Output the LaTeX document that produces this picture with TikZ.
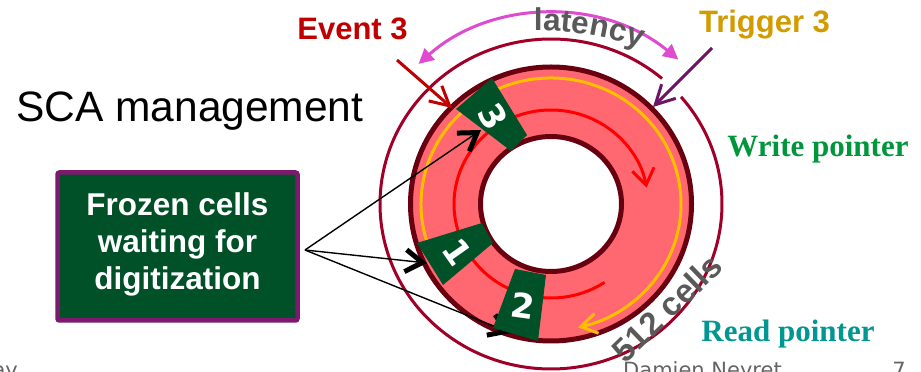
\documentclass[tikz,border=0pt]{standalone}
\usepackage{fontspec}
\setmainfont{Liberation Sans}
\newfontfamily\sansfont{Liberation Sans}
\newfontfamily\seriffont{Liberation Serif}
\newfontfamily\dejavu{DejaVu Sans}
\usetikzlibrary{arrows.meta,decorations.text}

\definecolor{ringfill}{RGB}{255,104,112}
\definecolor{ringedge}{RGB}{105,0,15}
\definecolor{outerline}{RGB}{160,0,40}
\definecolor{cellgreen}{RGB}{0,80,40}
\definecolor{boxframe}{RGB}{125,25,110}
\definecolor{latmag}{RGB}{222,75,208}
\definecolor{eventred}{RGB}{192,0,0}
\definecolor{trigpurple}{RGB}{110,20,100}
\definecolor{triggold}{RGB}{210,155,0}
\definecolor{writegreen}{RGB}{0,150,60}
\definecolor{readteal}{RGB}{0,150,145}
\definecolor{labelgrey}{RGB}{89,89,89}
\definecolor{footgrey}{RGB}{100,100,100}
\definecolor{ptryellow}{RGB}{255,190,0}

\begin{document}
\begin{tikzpicture}[x=1pt,y=1pt,
  cell/.style={fill=cellgreen},
  celldigit/.style={text=white,inner sep=0pt,
    font=\dejavu\bfseries\fontsize{34}{38}\selectfont},
  pointer/.style={draw=black,line width=1.4pt,
    -{Straight Barb[length=17pt,width=22pt,line width=5pt]}},
  eventarrow/.style={line width=3pt,
    -{Straight Barb[length=19pt,width=20pt,line width=3pt]}},
  track/.style={line width=3pt},
  bigtitle/.style={font=\sansfont\fontsize{42.5}{48}\selectfont},
  headlabel/.style={font=\sansfont\bfseries\fontsize{31}{36}\selectfont},
  ptrlabel/.style={font=\seriffont\bfseries\fontsize{31}{36}\selectfont},
  footer/.style={font=\dejavu\fontsize{21}{24}\selectfont,text=footgrey}
]
\useasboundingbox (0,0) rectangle (921,372);
\coordinate (c) at (551,168);

% outer memory boundary, open where the trigger arrow passes
\draw[outerline,line width=3pt]
  ([shift={(49.5:171 and 165)}]c)
  arc[start angle=49.5,end angle=400.5,x radius=171,y radius=165];

% latency span
\draw[latmag,line width=3pt,
  {Triangle[length=15pt,width=15pt]}-{Triangle[length=15pt,width=15pt]}]
  ([shift={(132.5:196 and 190)}]c)
  arc[start angle=132.5,end angle=49.5,x radius=196,y radius=190];
\coordinate (latc) at (538,21);
\path[decorate,decoration={text along path,text align=center,
    text color=labelgrey,
    text={|\sansfont\bfseries\fontsize{31.5}{34}\selectfont|latency}}]
  ([shift={(101:320)}]latc) arc[start angle=101,end angle=61,radius=320];

% circular buffer
\fill[ringfill,even odd rule]
  (c) ellipse[x radius=140.5,y radius=137]
  (c) ellipse[x radius=70.5,y radius=67.5];
\draw[ringedge,line width=5pt] (c) ellipse[x radius=140.5,y radius=137];
\draw[ringedge,line width=5pt] (c) ellipse[x radius=70.5,y radius=67.5];

% read pointer track
\draw[ptryellow,track,-{Straight Barb[length=16pt,width=20pt,line width=3pt]}]
  ([shift={(205:130 and 126)}]c)
  arc[start angle=205,end angle=-78,x radius=130,y radius=126];

% write pointer track
\draw[red,track,-{Straight Barb[length=16pt,width=22pt,line width=3pt]}]
  ([shift={(-56.5:97 and 94)}]c)
  arc[start angle=-56.5,end angle=-350,x radius=97,y radius=94];

% explanation box
\node[draw=boxframe,line width=4.5pt,fill=cellgreen,rounded corners=2pt,
  minimum width=240pt,minimum height=148pt,inner sep=0pt] (box) at (177.5,125.5) {};
\node[align=center,text=white,inner sep=0pt,
  font=\sansfont\bfseries\fontsize{31.5}{37}\selectfont] (boxtext) at (177.5,127.5)
  {Frozen cells\\waiting for\\digitization};

% pointers from the box to the frozen cells
\coordinate (src) at (305,122);
\coordinate (tip3) at (481,242);
\coordinate (tip1) at (427,109);
\coordinate (tip2) at (511,39);
\draw[pointer] (src) -- (tip3);
\draw[pointer] (src) -- (tip1);
\draw[pointer] (src) -- (tip2);

% frozen cells
\fill[cell] (456,263) -- (492,294) -- (527,237) -- (511,221) -- cycle;
\fill[cell] (417,129) -- (482,149) -- (493,129) -- (443,87) -- cycle;
\fill[cell] (515,103) -- (546,97) -- (538,31) -- (493,44) -- cycle;
\node[celldigit,rotate=-60] (d3) at (493,255) {3};
\node[celldigit,rotate=-55] (d1) at (457,120) {1};
\node[celldigit,rotate=-8] (d2) at (523,66) {2};

% event and trigger markers
\coordinate (ev0) at (397,312);
\coordinate (ev1) at (452,264);
\draw[eventarrow,eventred] (ev0) -- (ev1);
\coordinate (tr0) at (712,324);
\coordinate (tr1) at (653,265);
\draw[eventarrow,trigpurple] (tr0) -- (tr1);

% labels
\node[bigtitle,anchor=base west,inner sep=0pt] (title) at (16,250) {SCA management};
\node[headlabel,text=eventred,anchor=base,inner sep=0pt] (event) at (352.5,332) {Event 3};
\node[headlabel,text=triggold,anchor=base,inner sep=0pt] (trigger) at (764.5,339) {Trigger 3};
\node[ptrlabel,text=writegreen,anchor=base,inner sep=0pt] (write) at (818,215) {Write pointer};
\node[ptrlabel,text=readteal,anchor=base,inner sep=0pt] (read) at (788,30) {Read pointer};
\node[font=\sansfont\bfseries\fontsize{33}{36}\selectfont,text=labelgrey,
  rotate=44,inner sep=0pt] (cells) at (667,64) {512 cells};

% page footer
\node[footer,anchor=base east,inner sep=0pt] (place) at (18,-5.3) {ay};
\node[footer,anchor=base west,inner sep=0pt] (author) at (623,-5.3) {Damien Neyret};
\node[footer,anchor=base east,inner sep=0pt] (page) at (906,-5.3) {7};
\end{tikzpicture}
\end{document}
